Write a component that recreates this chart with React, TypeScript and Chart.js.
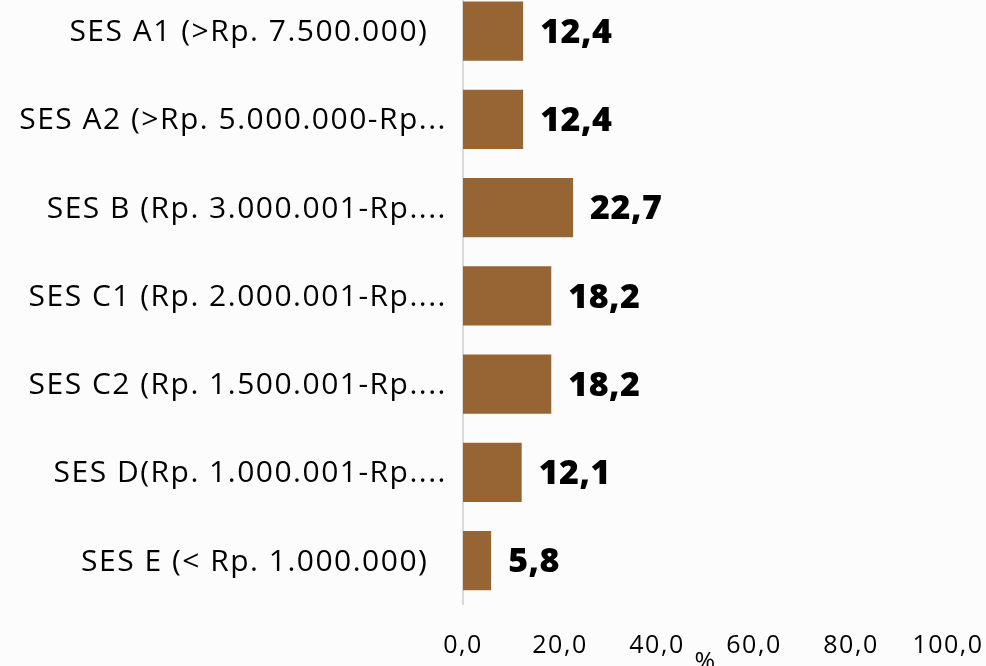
import React, { useEffect, useRef } from "react";
import { Chart, registerables } from "chart.js";

Chart.register(...registerables);

const categories = [
  "SES A1 (>Rp. 7.500.000)  ",
  "SES A2 (>Rp. 5.000.000-Rp...",
  "SES B (Rp. 3.000.001-Rp....",
  "SES C1 (Rp. 2.000.001-Rp....",
  "SES C2 (Rp. 1.500.001-Rp....",
  "SES D(Rp. 1.000.001-Rp....",
  "SES E (< Rp. 1.000.000)  ",
];
const values = [12.4, 12.4, 22.7, 18.2, 18.2, 12.1, 5.8];
const xMin = 0;
const xMax = 100;
const xStep = 20;
const axisTitle = "%";

const FONT = "'Open Sans', 'Noto Sans', sans-serif";
const fmt = (v: number) => v.toFixed(1).replace(".", ",");

const spacing = {
  id: "spacing",
  beforeDraw(chart: any) {
    chart.ctx.letterSpacing = "1.5px";
  },
};

const valueLabels = {
  id: "valueLabels",
  afterDatasetsDraw(chart: any) {
    const ctx = chart.ctx;
    const meta = chart.getDatasetMeta(0);
    ctx.save();
    ctx.letterSpacing = "0.5px";
    ctx.font = `800 34px ${FONT}`;
    ctx.fillStyle = "#000000";
    ctx.textAlign = "left";
    ctx.textBaseline = "middle";
    meta.data.forEach((bar: any, i: number) => {
      ctx.fillText(fmt(values[i]), bar.x + 17, bar.y + 2);
    });
    ctx.restore();
  },
};

export default function App() {
  const ref = useRef<HTMLCanvasElement | null>(null);
  useEffect(() => {
    document.body.style.margin = "0";
    document.body.style.background = "#fcfcfc";
    document.body.style.overflow = "hidden";
    const chart = new Chart(ref.current!, {
      type: "bar",
      data: {
        labels: categories,
        datasets: [
          {
            data: values,
            backgroundColor: "#976534",
            borderWidth: 0,
            barPercentage: 0.67,
            categoryPercentage: 1,
          },
        ],
      },
      plugins: [spacing, valueLabels],
      options: {
        indexAxis: "y",
        animation: false,
        responsive: false,
        maintainAspectRatio: false,
        layout: { padding: { top: 0, right: 38, bottom: 0, left: 0 } },
        plugins: {
          legend: { display: false },
          tooltip: { enabled: false },
        },
        scales: {
          y: {
            grid: { display: false, drawTicks: false },
            border: { display: true, color: "#d9d9d9", width: 2 },
            ticks: {
              padding: 16,
              labelOffset: 1.5,
              color: "#000000",
              font: { family: FONT, size: 30 },
            },
            afterFit: (s: any) => {
              s.width = 463;
              s.paddingTop = 0;
              s.paddingBottom = 0;
            },
          },
          x: {
            min: xMin,
            max: xMax,
            grid: { display: false, drawTicks: false },
            border: { display: false },
            ticks: {
              stepSize: xStep,
              padding: 26,
              color: "#000000",
              font: { family: FONT, size: 25 },
              callback: (v: any) => fmt(Number(v)),
            },
            title: {
              display: true,
              text: axisTitle,
              color: "#000000",
              font: { family: FONT, size: 25 },
              padding: { top: 0, bottom: 29 },
            },
            afterFit: (s: any) => {
              s.height = 102.3;
              s.paddingLeft = 0;
              s.paddingRight = 0;
            },
          },
        },
      },
    });
    return () => chart.destroy();
  }, []);
  return (
    <div style={{ position: "fixed", left: 0, top: 0, width: 986, height: 666, overflow: "hidden", background: "#fcfcfc" }}>
      <div style={{ position: "absolute", left: 0, top: -13, width: 986, height: 720 }}>
        <canvas ref={ref} width={986} height={720} style={{ display: "block", width: 986, height: 720 }} />
      </div>
    </div>
  );
}
